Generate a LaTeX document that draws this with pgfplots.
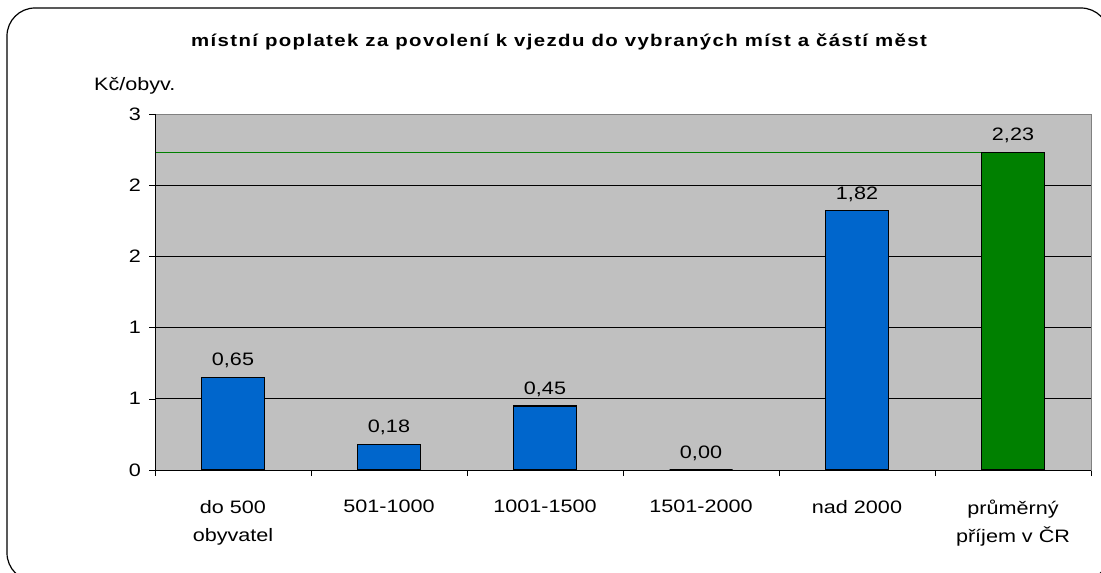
\documentclass[border=0pt]{standalone}
\usepackage{fontspec}
\setmainfont{Liberation Sans}[FakeStretch=1.2]
\usepackage{pgfplots}
\pgfplotsset{compat=1.18}
\definecolor{plotbg}{HTML}{C0C0C0}
\definecolor{barblue}{HTML}{0066CC}
\definecolor{bargreen}{HTML}{008000}
\definecolor{frameg}{HTML}{808080}
\begin{document}
\begin{tikzpicture}[x=1pt,y=1pt]
\useasboundingbox (0,0) rectangle (1101,573);
\draw[line width=1.2pt, rounded corners=28pt] (7,-8) rectangle (1109,565);
\node[anchor=base] at (559,526) {\fontsize{17}{20}\selectfont\bfseries\addfontfeatures{LetterSpace=8}místní poplatek za povolení k vjezdu do vybraných míst a částí měst};
\node[anchor=base west, inner sep=0pt] at (94,482) {\fontsize{18}{20}\selectfont Kč/obyv.};
\begin{axis}[
  at={(155pt,103pt)}, anchor=south west,
  scale only axis, width=936pt, height=356pt,
  xmin=-0.5, xmax=5.5, ymin=0, ymax=2.5,
  axis background/.style={fill=plotbg},
  axis line style={draw=frameg},
  xtick={0,1,2,3,4,5},
  xticklabels={{do 500\\obyvatel},{501-1000},{1001-1500},{1501-2000},{nad 2000},{průměrný\\příjem v ČR}},
  major x tick style={draw=none},
  minor xtick={-0.5,0.5,1.5,2.5,3.5,4.5,5.5},
  minor tick length=6pt, major tick length=6pt,
  minor x tick style={black},
  tick align=outside,
  xtick pos=bottom, ytick pos=left,
  ytick={0,0.5,1,1.5,2,2.5},
  yticklabels={0,1,1,2,2,3},
  ymajorgrids, major grid style={black, line width=0.6pt},
  y tick style={black},
  xticklabel style={align=center, anchor=north, inner sep=0pt, yshift=-24pt, font=\fontsize{18}{28}\selectfont},
  yticklabel style={anchor=east, inner sep=0pt, xshift=-8pt, font=\fontsize{18}{20}\selectfont},
  /pgf/number format/.cd, use comma, fixed, fixed zerofill, precision=2, assume math mode=true,
]
\addplot[bargreen, line width=1.5pt, sharp plot, no markers, forget plot] coordinates {(-0.5,2.23) (5.15,2.23)};
\addplot[ybar, bar width=63pt, bar shift=0pt, fill=barblue, draw=black, line width=1.2pt,
  nodes near coords, every node near coord/.style={anchor=base, yshift=11.5pt, font=\fontsize{18}{20}\selectfont, black}]
  coordinates {(0,0.65) (1,0.18) (2,0.45) (3,0.00) (4,1.82)};
\addplot[ybar, bar width=63pt, bar shift=0pt, fill=bargreen, draw=black, line width=1.2pt,
  nodes near coords, every node near coord/.style={anchor=base, yshift=11.5pt, font=\fontsize{18}{20}\selectfont, black}]
  coordinates {(5,2.23)};
\end{axis}
\draw[frameg, line width=0.8pt] (155,459) -- (1091,459) -- (1091,103);
\draw[black, line width=0.8pt] (155,459) -- (155,103) -- (1091,103);
\end{tikzpicture}
\end{document}
